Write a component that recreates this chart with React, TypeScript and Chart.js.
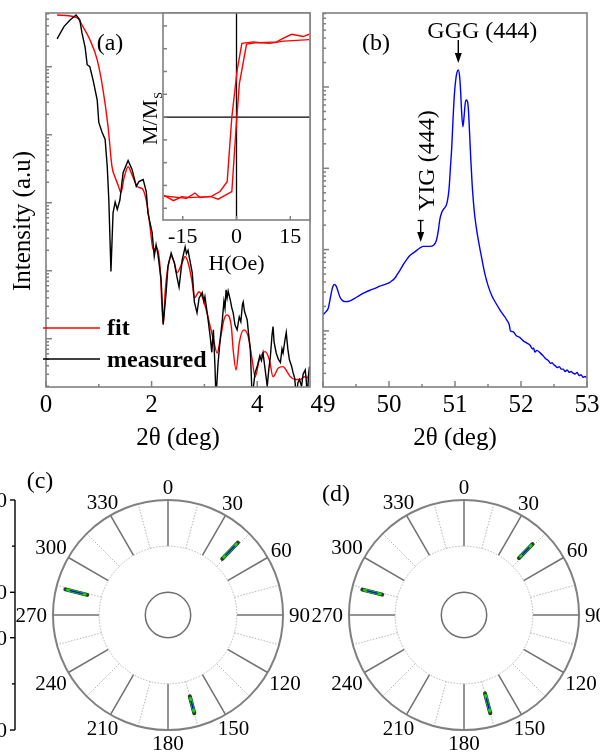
import React, { useEffect, useRef } from "react";
import { Chart, registerables } from "chart.js";

Chart.register(...registerables);

const SERIF = '"Liberation Serif", "Times New Roman", Times, serif';
const FRAME = "#808080";

// ---------------- (a) X-ray reflectivity (log10 intensity) ----------------
const measuredTheta = [0.21,0.34,0.46,0.57,0.64,0.68,0.74,0.78,0.83,0.89,0.97,1.00,1.06,1.12,1.16,1.19,1.23,1.27,1.31,1.35,1.40,1.46,1.555,1.63,1.71,1.76,1.84,1.90,1.93,2.01,2.05,2.085,2.12,2.18,2.22,2.275,2.31,2.37,2.43,2.48,2.52,2.58,2.635,2.66,2.69,2.77,2.81,2.86,2.90,2.96,2.99,3.01,3.07,3.09,3.11,3.14,3.17,3.20,3.22,3.24,3.26,3.30,3.34,3.37,3.39,3.41,3.43,3.45,3.49,3.52,3.545,3.58,3.62,3.66,3.69,3.72,3.735,3.76,3.81,3.84,3.87,3.905,3.93,3.96,4.00,4.05,4.08,4.11,4.15,4.19,4.22,4.25,4.28,4.30,4.32,4.36,4.40,4.44,4.47,4.49,4.53,4.55,4.58,4.61,4.65,4.68,4.71,4.74,4.77,4.80,4.84,4.87,4.91,4.93,4.95,4.97,4.99];
const measuredLogI = [5.41,5.59,5.69,5.76,5.69,5.50,5.29,5.03,5.00,4.81,4.51,4.18,4.04,3.93,3.53,3.04,1.99,2.85,3.01,2.90,3.04,3.44,3.62,3.49,3.24,3.31,3.34,3.16,2.85,2.56,2.21,2.38,2.24,1.87,1.21,1.68,2.06,2.26,2.12,1.91,1.76,2.16,2.35,2.25,2.30,1.97,1.54,1.38,1.60,1.68,1.55,1.62,1.28,1.15,1.03,0.80,1.13,0.60,0.10,0.40,0.65,1.00,1.28,1.55,1.45,1.72,1.60,1.70,1.57,1.45,1.38,1.20,1.13,1.32,1.25,1.50,1.54,1.40,1.28,1.05,0.84,0.10,0.30,0.50,0.59,0.75,0.68,0.79,0.55,0.30,0.55,0.74,1.05,1.18,0.95,0.79,0.70,0.65,0.85,0.79,1.00,1.09,0.85,0.69,0.60,0.50,0.42,0.15,0.35,0.40,0.30,0.48,0.54,0.38,0.10,0.45,0.59];
const fitTheta = [0.21,0.59,0.70,0.83,0.97,1.08,1.175,1.25,1.31,1.365,1.42,1.48,1.555,1.63,1.725,1.78,1.84,1.915,1.97,2.03,2.10,2.16,2.22,2.256,2.31,2.37,2.43,2.48,2.58,2.635,2.69,2.77,2.81,2.90,2.98,3.05,3.11,3.17,3.24,3.30,3.37,3.43,3.51,3.545,3.60,3.66,3.75,3.83,3.905,3.96,4.04,4.15,4.23,4.30,4.40,4.49,4.57,4.63,4.72,4.815,4.89,4.97];
const fitLogI = [5.76,5.72,5.59,5.40,5.10,4.66,4.12,3.53,3.37,3.26,3.15,3.37,3.53,3.41,3.24,3.22,3.19,2.97,2.65,2.31,2.34,2.06,1.21,1.68,2.06,2.21,2.12,1.97,2.12,2.21,2.12,1.82,1.60,1.69,1.57,1.38,1.18,0.99,0.79,0.99,1.28,1.35,1.18,0.84,0.54,0.94,1.13,1.03,0.69,0.44,0.69,0.81,0.69,0.44,0.57,0.59,0.51,0.44,0.40,0.40,0.44,0.43];
const xrrRange = [0, 5];
const xrrLogRange = [0.29, 5.79];
const xrrMajorTicks = [0, 2, 4];
const xrrMinorTicks = [1, 3];
const xrrTickLabels = ["0", "2", "4"];
const xrrDecades = [0, 1, 2, 3, 4, 5];

// ---------------- inset: hysteresis loop ----------------
const loopUpField = [-20.2,-17.6,-15.3,-13.0,-9.3,-6.9,-5.1,-1.3,-0.1,0.8,2.8,5.6,9.3,13.1,16.8,20.3];
const loopUpM = [-1.03,-1.10,-1.05,-1.06,-1.05,-1.05,-1.08,-0.98,-0.13,0.44,0.96,0.98,0.97,1.00,1.01,1.02];
const loopDownField = [20.3,18.6,15.4,13.1,11.2,6.6,4.7,1.5,0.2,-1.3,-2.6,-4.6,-6.9,-10.2,-11.6,-13.9,-15.8,-20.2];
const loopDownM = [1.09,1.06,1.09,1.04,0.99,0.98,0.99,0.97,0.62,0.0,-0.85,-0.98,-1.04,-1.06,-1.00,-1.07,-1.06,-1.04];
const insetXRange = [-20.5, 20.5];
const insetYRange = [-1.355, 1.37];
const insetXTicks = [-15, 0, 15];
const insetXTickLabels = ["-15", "0", "15"];
const insetYTicks = [-1.2, -0.9, -0.6, -0.3, 0, 0.3, 0.6, 0.9, 1.2];

// ---------------- (b) XRD (log10 intensity) ----------------
const xrdTwoTheta = [49.00,49.05,49.08,49.11,49.14,49.17,49.20,49.23,49.26,49.30,49.35,49.41,49.48,49.56,49.63,49.71,49.78,49.86,49.93,50.00,50.05,50.09,50.13,50.17,50.22,50.27,50.32,50.37,50.42,50.47,50.52,50.57,50.62,50.67,50.70,50.72,50.75,50.77,50.80,50.82,50.85,50.87,50.89,50.91,50.93,50.95,50.97,50.99,51.01,51.03,51.05,51.07,51.085,51.10,51.12,51.14,51.155,51.17,51.19,51.205,51.22,51.24,51.26,51.28,51.30,51.34,51.38,51.42,51.45,51.50,51.56,51.62,51.68,51.73,51.78,51.82,51.84,51.88,51.93,51.98,52.03,52.09,52.14,52.17,52.19,52.21,52.24,52.29,52.34,52.37,52.39,52.42,52.45,52.47,52.49,52.52,52.55,52.58,52.61,52.64,52.67,52.70,52.73,52.76,52.79,52.82,52.85,52.88,52.91,52.94,52.97,53.00];
const xrdLogI = [1.20,1.24,1.28,1.40,1.52,1.57,1.55,1.48,1.41,1.37,1.36,1.37,1.40,1.44,1.47,1.50,1.52,1.55,1.57,1.59,1.62,1.65,1.70,1.75,1.82,1.88,1.93,1.96,1.99,2.02,2.04,2.04,2.04,2.05,2.08,2.12,2.25,2.37,2.46,2.49,2.52,2.55,2.62,2.75,3.00,3.25,3.60,3.90,4.08,4.18,4.21,4.13,3.95,3.70,3.51,3.66,3.80,3.84,3.82,3.70,3.45,3.10,2.80,2.58,2.41,2.18,2.00,1.83,1.71,1.56,1.43,1.34,1.26,1.20,1.14,1.08,1.00,0.99,0.94,0.92,0.88,0.85,0.82,0.78,0.79,0.74,0.76,0.73,0.69,0.66,0.65,0.63,0.60,0.61,0.59,0.57,0.55,0.56,0.53,0.53,0.50,0.52,0.49,0.50,0.48,0.47,0.49,0.45,0.46,0.43,0.44,0.42];
const xrdRange = [49, 53];
const xrdLogRange = [0.31, 4.91];
const xrdTicks = [49, 50, 51, 52, 53];
const xrdTickLabels = ["49", "50", "51", "52", "53"];
const xrdMinorTicks = [49.5, 50.5, 51.5, 52.5];
const xrdDecades = [0, 1, 2, 3, 4];
const gggPeak = 51.05;
const yigPeak = 50.48;

// ---------------- (c), (d) pole figures ----------------
const phiLabels = [0, 30, 60, 90, 120, 150, 180, 210, 240, 270, 300, 330];
const phiGrid = [0, 15, 30, 45, 60, 75, 90, 105, 120, 135, 150, 165, 180, 195, 210, 225, 240, 255, 270, 285, 300, 315, 330, 345];
const chiMax = 90;
const chiMid = 45;
const chiHole = 22.13; // radial offset of the inner hole
const polarHalfRange = 126.72;
const radialAxisLabels = ["90", "0", "0", "90"];
const spotsPhiC = [44, 284, 165];
const spotsChiInC = [54, 59, 60];
const spotsChiOutC = [76, 81, 77];
const spotsPhiD = [44, 284, 165];
const spotsChiInD = [55, 60, 57];
const spotsChiOutD = [74, 80, 77];

// ---------------- helpers ----------------
const zip = (xs: number[], ys: number[]) => xs.map((x, i) => ({ x, y: ys[i] }));

function line(ctx: CanvasRenderingContext2D, x1: number, y1: number, x2: number, y2: number) {
  ctx.beginPath();
  ctx.moveTo(x1, y1);
  ctx.lineTo(x2, y2);
  ctx.stroke();
}

function text(
  ctx: CanvasRenderingContext2D,
  s: string,
  x: number,
  y: number,
  size: number,
  o: { bold?: boolean; align?: CanvasTextAlign; baseline?: CanvasTextBaseline; rotate?: number; color?: string } = {}
) {
  ctx.save();
  ctx.font = `${o.bold ? "bold " : ""}${size}px ${SERIF}`;
  ctx.fillStyle = o.color || "#000";
  ctx.textAlign = o.align || "center";
  ctx.textBaseline = o.baseline || "alphabetic";
  ctx.translate(x, y);
  if (o.rotate) ctx.rotate(o.rotate);
  ctx.fillText(s, 0, 0);
  ctx.restore();
}

function arrowDown(ctx: CanvasRenderingContext2D, x: number, y1: number, y2: number) {
  ctx.save();
  ctx.strokeStyle = "#000";
  ctx.fillStyle = "#000";
  ctx.lineWidth = 1.4;
  line(ctx, x, y1, x, y2 - 6);
  ctx.beginPath();
  ctx.moveTo(x, y2);
  ctx.lineTo(x - 3.5, y2 - 10);
  ctx.lineTo(x + 3.5, y2 - 10);
  ctx.closePath();
  ctx.fill();
  ctx.restore();
}

function baseOptions(padding: any, xr: number[], yr: number[]) {
  return {
    responsive: false,
    animation: false as const,
    devicePixelRatio: 1,
    events: [] as any[],
    layout: { padding },
    plugins: { legend: { display: false }, tooltip: { enabled: false } },
    scales: {
      x: { type: "linear" as const, min: xr[0], max: xr[1], display: false },
      y: { type: "linear" as const, min: yr[0], max: yr[1], display: false },
    },
  };
}

function logTicks(ctx: CanvasRenderingContext2D, a: any, y: any, decades: number[]) {
  for (const d of decades) {
    for (let k = 1; k <= 9; k++) {
      const v = d + Math.log10(k);
      if (v <= y.min || v >= y.max) continue;
      const py = y.getPixelForValue(v);
      line(ctx, a.left, py, a.left + (k === 1 ? 6 : 3), py);
    }
  }
}

// ---------------- chart builders ----------------
function buildXrr(): any {
  return {
    type: "scatter",
    data: {
      datasets: [
        { data: zip(measuredTheta, measuredLogI), showLine: true, borderColor: "#000", borderWidth: 1.4, pointRadius: 0, tension: 0 },
        { data: zip(fitTheta, fitLogI), showLine: true, borderColor: "#ff0000", borderWidth: 1.4, pointRadius: 0, cubicInterpolationMode: "monotone" },
      ],
    },
    options: baseOptions({ left: 46, top: 13, right: 10, bottom: 73 }, xrrRange, xrrLogRange),
    plugins: [
      {
        id: "xrrDecor",
        afterDraw(chart: any) {
          const { ctx, chartArea: a, scales } = chart;
          const x = scales.x, y = scales.y;
          ctx.save();
          ctx.strokeStyle = FRAME;
          ctx.lineWidth = 1.5;
          logTicks(ctx, a, y, xrrDecades);
          xrrMajorTicks.forEach((t) => { const px = x.getPixelForValue(t); line(ctx, px, a.bottom, px, a.bottom - 6); });
          xrrMinorTicks.forEach((t) => { const px = x.getPixelForValue(t); line(ctx, px, a.bottom, px, a.bottom - 3); });
          ctx.lineWidth = 1.6;
          ctx.strokeRect(a.left, a.top, a.right - a.left, a.bottom - a.top);
          ctx.restore();
          xrrMajorTicks.forEach((t, i) => text(ctx, xrrTickLabels[i], x.getPixelForValue(t), 412, 25));
          text(ctx, "2θ (deg)", (a.left + a.right) / 2, 445, 25);
          text(ctx, "Intensity (a.u)", 30, 221, 25, { rotate: -Math.PI / 2 });
          text(ctx, "(a)", 110, 50, 24);
          // legend
          ctx.save();
          ctx.lineWidth = 1.4;
          ctx.strokeStyle = "#ff0000";
          line(ctx, 43, 328, 100, 328);
          ctx.strokeStyle = "#000";
          line(ctx, 43, 359, 100, 359);
          ctx.restore();
          text(ctx, "fit", 107, 335, 24, { bold: true, align: "left" });
          text(ctx, "measured", 107, 367, 24, { bold: true, align: "left" });
        },
      },
    ],
  };
}

function buildInset(): any {
  return {
    type: "scatter",
    data: {
      datasets: [
        { data: zip(loopUpField, loopUpM), showLine: true, borderColor: "#ff0000", borderWidth: 1.4, pointRadius: 0, tension: 0 },
        { data: zip(loopDownField, loopDownM), showLine: true, borderColor: "#ff0000", borderWidth: 1.4, pointRadius: 0, tension: 0 },
      ],
    },
    options: baseOptions({ left: 33, top: 13, right: 10, bottom: 60 }, insetXRange, insetYRange),
    plugins: [
      {
        id: "insetDecor",
        beforeDatasetsDraw(chart: any) {
          const { ctx, chartArea: a, scales } = chart;
          ctx.save();
          ctx.fillStyle = "#fff";
          ctx.fillRect(a.left, a.top, a.right - a.left, a.bottom - a.top);
          ctx.strokeStyle = "#000";
          ctx.lineWidth = 1.3;
          const x0 = scales.x.getPixelForValue(0);
          const y0 = scales.y.getPixelForValue(0);
          line(ctx, x0, a.top, x0, a.bottom);
          line(ctx, a.left, y0, a.right, y0);
          ctx.restore();
        },
        afterDraw(chart: any) {
          const { ctx, chartArea: a, scales } = chart;
          const x = scales.x, y = scales.y;
          ctx.save();
          ctx.strokeStyle = FRAME;
          ctx.lineWidth = 1.5;
          insetYTicks.forEach((t) => { const py = y.getPixelForValue(t); line(ctx, a.left, py, a.left + 4, py); });
          insetXTicks.forEach((t) => { const px = x.getPixelForValue(t); line(ctx, px, a.bottom, px, a.bottom - 4); });
          ctx.lineWidth = 1.6;
          ctx.strokeRect(a.left, a.top, a.right - a.left, a.bottom - a.top);
          ctx.restore();
          insetXTicks.forEach((t, i) => text(ctx, insetXTickLabels[i], x.getPixelForValue(t), 243, 22));
          text(ctx, "H(Oe)", (a.left + a.right) / 2, 270, 22);
          // M/M_S rotated
          ctx.save();
          ctx.translate(27, 145);
          ctx.rotate(-Math.PI / 2);
          ctx.fillStyle = "#000";
          ctx.textBaseline = "alphabetic";
          ctx.textAlign = "left";
          ctx.font = `22px ${SERIF}`;
          ctx.fillText("M/M", 0, 0);
          const w = ctx.measureText("M/M").width;
          ctx.font = `12px ${SERIF}`;
          ctx.fillText("S", w + 1, 5);
          ctx.restore();
        },
      },
    ],
  };
}

function buildXrd(): any {
  return {
    type: "scatter",
    data: {
      datasets: [
        { data: zip(xrdTwoTheta, xrdLogI), showLine: true, borderColor: "#0000ff", borderWidth: 1.4, pointRadius: 0, cubicInterpolationMode: "monotone" },
      ],
    },
    options: baseOptions({ left: 23, top: 13, right: 13, bottom: 73 }, xrdRange, xrdLogRange),
    plugins: [
      {
        id: "xrdDecor",
        afterDraw(chart: any) {
          const { ctx, chartArea: a, scales } = chart;
          const x = scales.x, y = scales.y;
          ctx.save();
          ctx.strokeStyle = FRAME;
          ctx.lineWidth = 1.5;
          logTicks(ctx, a, y, xrdDecades);
          xrdTicks.forEach((t) => { const px = x.getPixelForValue(t); line(ctx, px, a.bottom, px, a.bottom - 6); });
          xrdMinorTicks.forEach((t) => { const px = x.getPixelForValue(t); line(ctx, px, a.bottom, px, a.bottom - 3); });
          ctx.lineWidth = 1.6;
          ctx.strokeRect(a.left, a.top, a.right - a.left, a.bottom - a.top);
          ctx.restore();
          xrdTicks.forEach((t, i) => text(ctx, xrdTickLabels[i], x.getPixelForValue(t), 412, 25));
          text(ctx, "2θ (deg)", (a.left + a.right) / 2, 445, 25);
          text(ctx, "(b)", 76, 50, 24);
          const gx = x.getPixelForValue(gggPeak);
          text(ctx, "GGG (444)", gx + 24, 38, 24);
          arrowDown(ctx, gx, 40, 63);
          const yx = x.getPixelForValue(yigPeak);
          arrowDown(ctx, yx, 221, 242);
          ctx.save();
          ctx.lineWidth = 1.3;
          ctx.strokeStyle = "#000";
          line(ctx, yx - 3, 220.5, yx + 3, 220.5);
          ctx.restore();
          text(ctx, "YIG (444)", yx + 13, 211, 24, { align: "left", rotate: -Math.PI / 2 });
        },
      },
    ],
  };
}

function toXY(phi: number, chi: number) {
  const rho = chiHole + chi;
  const t = (phi * Math.PI) / 180;
  return { x: rho * Math.sin(t), y: rho * Math.cos(t) };
}

function buildPolar(phis: number[], chiIn: number[], chiOut: number[], label: string, labelX: number, labelY: number, withAxis: boolean, padding: any): any {
  const blue = phis.map((p, i) => ({
    data: [toXY(p, chiIn[i] + 5), toXY(p, chiOut[i] - 5)],
    showLine: true, borderColor: "#0010e0", borderWidth: 1.4, pointRadius: 0, borderCapStyle: "round", clip: false,
  }));
  const green = phis.map((p, i) => ({
    data: [toXY(p, chiIn[i] + 2), toXY(p, chiOut[i] - 2)],
    showLine: true, borderColor: "#18d018", borderWidth: 2.8, pointRadius: 0, borderCapStyle: "round", clip: false,
  }));
  const outline = phis.map((p, i) => ({
    data: [toXY(p, chiIn[i]), toXY(p, chiOut[i])],
    showLine: true, borderColor: "#24401f", borderWidth: 4, pointRadius: 0, borderCapStyle: "round", clip: false,
  }));
  return {
    type: "scatter",
    data: { datasets: [...blue, ...green, ...outline] },
    options: baseOptions(padding, [-polarHalfRange, polarHalfRange], [-polarHalfRange, polarHalfRange]),
    plugins: [
      {
        id: "polarDecor",
        beforeDatasetsDraw(chart: any) {
          const { ctx, scales } = chart;
          const x = scales.x, y = scales.y;
          const cx = x.getPixelForValue(0), cy = y.getPixelForValue(0);
          const rad = (v: number) => x.getPixelForValue(v) - cx;
          const rOut = rad(chiHole + chiMax);
          const rMid = rad(chiHole + chiMid);
          const rHole = rad(chiHole);
          ctx.save();
          // spokes
          phiGrid.forEach((p) => {
            const t = (p * Math.PI) / 180;
            const s = Math.sin(t), c = Math.cos(t);
            if (p % 30 === 0) {
              ctx.setLineDash([]);
              ctx.strokeStyle = "#707070";
              ctx.lineWidth = 1.5;
            } else {
              ctx.setLineDash([1.5, 1.5]);
              ctx.strokeStyle = "#b5b5b5";
              ctx.lineWidth = 1;
            }
            line(ctx, cx + rMid * s, cy - rMid * c, cx + rOut * s, cy - rOut * c);
          });
          // dotted mid circle
          ctx.setLineDash([1.5, 1.5]);
          ctx.strokeStyle = "#b5b5b5";
          ctx.lineWidth = 1;
          ctx.beginPath();
          ctx.arc(cx, cy, rMid, 0, Math.PI * 2);
          ctx.stroke();
          ctx.setLineDash([]);
          // hole
          ctx.strokeStyle = "#707070";
          ctx.lineWidth = 1.5;
          ctx.beginPath();
          ctx.arc(cx, cy, rHole, 0, Math.PI * 2);
          ctx.stroke();
          // outer
          ctx.strokeStyle = "#808080";
          ctx.lineWidth = 2;
          ctx.beginPath();
          ctx.arc(cx, cy, rOut, 0, Math.PI * 2);
          ctx.stroke();
          ctx.restore();
        },
        afterDraw(chart: any) {
          const { ctx, scales } = chart;
          const x = scales.x, y = scales.y;
          const cx = x.getPixelForValue(0), cy = y.getPixelForValue(0);
          const rOut = x.getPixelForValue(chiHole + chiMax) - cx;
          ctx.save();
          ctx.font = `21px ${SERIF}`;
          phiLabels.forEach((p) => {
            const s = String(p);
            const hw = ctx.measureText(s).width / 2;
            const hh = 7;
            const t = (p * Math.PI) / 180;
            const sn = Math.sin(t), cs = Math.cos(t);
            const d = rOut + 6 + Math.sqrt((hw * sn) ** 2 + (hh * cs) ** 2);
            text(ctx, s, cx + d * sn, cy - d * cs + 7, 21);
          });
          ctx.restore();
          text(ctx, label, labelX, labelY, 24);
          if (withAxis) {
            const ax = 15;
            const vals = [chiHole + chiMax, chiHole, -chiHole, -(chiHole + chiMax)];
            const minors = [chiHole + chiMid, -(chiHole + chiMid)];
            ctx.save();
            ctx.strokeStyle = "#000";
            ctx.lineWidth = 1.4;
            line(ctx, ax, y.getPixelForValue(vals[0]), ax, y.getPixelForValue(vals[3]));
            vals.forEach((v) => { const py = y.getPixelForValue(v); line(ctx, ax - 5, py, ax, py); });
            minors.forEach((v) => { const py = y.getPixelForValue(v); line(ctx, ax - 3, py, ax, py); });
            ctx.restore();
            vals.forEach((v, i) => text(ctx, radialAxisLabels[i], 7, y.getPixelForValue(v) + 7, 21, { align: "right" }));
          }
        },
      },
    ],
  };
}

const buildC = () => buildPolar(spotsPhiC, spotsChiInC, spotsChiOutC, "(c)", 40, 38, true, { left: 38, right: 12, top: 35, bottom: 7 });
const buildD = () => buildPolar(spotsPhiD, spotsChiInD, spotsChiOutD, "(d)", 36, 51, false, { left: 34, right: 6, top: 35, bottom: 7 });

function Panel({ left, top, width, height, build }: { left: number; top: number; width: number; height: number; build: () => any }) {
  const ref = useRef<HTMLCanvasElement>(null);
  useEffect(() => {
    const chart = new Chart(ref.current as HTMLCanvasElement, build());
    return () => chart.destroy();
  }, [build]);
  return (
    <canvas
      ref={ref}
      width={width}
      height={height}
      style={{ position: "absolute", left, top, width, height, display: "block" }}
    />
  );
}

export default function App() {
  return (
    <div style={{ position: "absolute", left: 0, top: 0, width: 600, height: 752, background: "#fff", overflow: "hidden" }}>
      <Panel left={0} top={0} width={320} height={460} build={buildXrr} />
      <Panel left={130} top={0} width={190} height={280} build={buildInset} />
      <Panel left={300} top={0} width={300} height={460} build={buildXrd} />
      <Panel left={0} top={450} width={310} height={302} build={buildC} />
      <Panel left={300} top={450} width={300} height={302} build={buildD} />
    </div>
  );
}
